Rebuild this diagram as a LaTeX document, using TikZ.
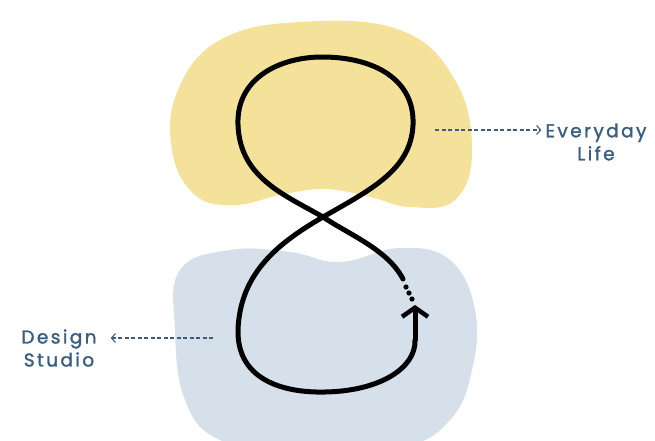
\documentclass[tikz,border=0pt]{standalone}
\usepackage{fontspec}
\usepackage{tikz}
\usetikzlibrary{arrows.meta}
\newfontfamily\labelfont[LetterSpace=13, FakeBold=1.6]{Poppins}
\definecolor{lifeyellow}{HTML}{F5E29A}
\definecolor{studioblue}{HTML}{D6E0EA}
\definecolor{labelblue}{HTML}{3A5E80}

\begin{document}
\begin{tikzpicture}[x=1pt,y=-1pt,
        loopline/.style={line width=5pt, line cap=round, line join=round},
        pointer/.style={labelblue, line width=1.1pt, dash pattern=on 4pt off 2.5pt, -{Straight Barb[length=4pt,width=9pt]}},
        tag/.style={labelblue, font=\labelfont\fontsize{18.5}{23}\selectfont, align=center, inner sep=2pt}]
        \clip (0,0) rectangle (655,440);
        % blobs
        \fill[lifeyellow] plot[smooth cycle, tension=0.7] coordinates {(300,22) (400,30) (455,80) (472,150) (455,200) (410,207) (370,197) (325,189) (280,195) (235,205) (195,195) (172,150) (178,90) (220,40)};
        \fill[studioblue] plot[smooth cycle, tension=0.7] coordinates {(180,270) (230,250) (290,252) (340,262) (400,248) (450,260) (475,310) (472,370) (450,420) (400,448) (300,455) (220,440) (185,400) (175,330)};
        % figure eight
        \coordinate (cross) at (323,217);
        \coordinate (tip) at (415,305);
        \coordinate (dotend) at (403,279);
        \draw[loopline] (dotend) .. controls (388,250) and (350,235) .. (cross)
            .. controls (285,195) and (240,178) .. (238,125)
            .. controls (236,78) and (280,57) .. (322,57)
            .. controls (375,57) and (415,80) .. (413,125)
            .. controls (411,170) and (370,190) .. (cross)
            .. controls (280,242) and (240,272) .. (238,330)
            .. controls (237,378) and (280,393) .. (325,392)
            .. controls (380,391) and (416,368) .. (415,340);
        \draw[loopline, -{Straight Barb[length=9pt,width=26pt,line width=4.5pt]}] (415,340) -- (tip);
        \foreach \p in {(406,287),(409,293),(412,299)}
            \fill \p circle (2.6pt);
        % labels
        \node[tag] (life) at (596,142) {Everyday\\Life};
        \node[tag] (studio) at (59,348) {Design\\Studio};
        \coordinate (lifefrom) at (435,130);
        \coordinate (studiofrom) at (213,338);
        \draw[pointer] (lifefrom) -- ([xshift=-2pt]life.west |- lifefrom);
        \draw[pointer] (studiofrom) -- ([xshift=12pt]studio.east |- studiofrom);
\end{tikzpicture}
\end{document}
